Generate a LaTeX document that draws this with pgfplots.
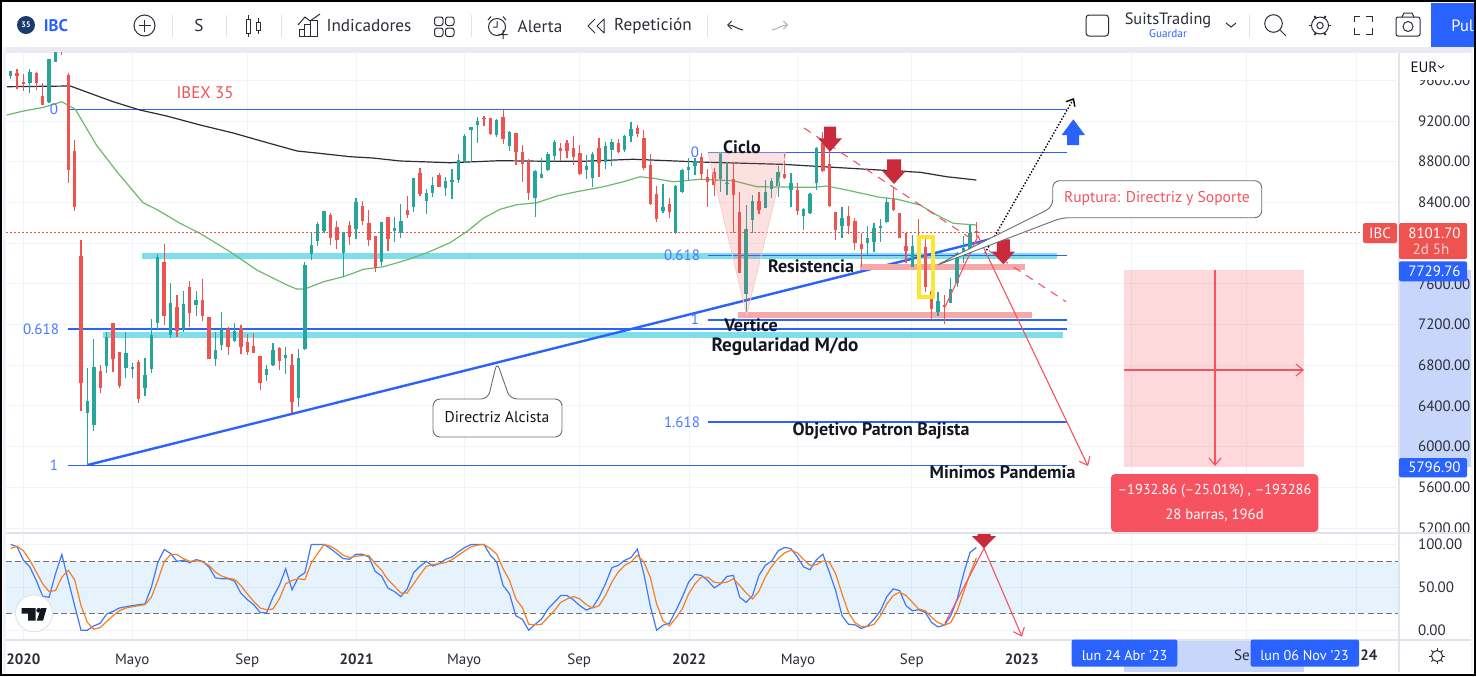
\documentclass[border=0pt]{standalone}
\usepackage{pgfplots}
\pgfplotsset{compat=1.18}
\usepackage{pgfplotstable}
\usepackage{fontspec}
\setmainfont{PT Sans}
\usetikzlibrary{arrows.meta}
\definecolor{tvgreen}{HTML}{26A69A}
\definecolor{tvred}{HTML}{EF5350}
\definecolor{tvblue}{HTML}{2962FF}
\definecolor{tvpink}{HTML}{F7525F}
\definecolor{tvcyan}{HTML}{80DEEA}
\definecolor{salmon}{HTML}{F7A8A8}
\definecolor{gridc}{HTML}{F0F3FA}
\definecolor{sepc}{HTML}{E0E3EB}
\definecolor{txt}{HTML}{131722}
\definecolor{ink}{HTML}{2A2E39}
\definecolor{arrowred}{HTML}{C92A3C}
\definecolor{hilite}{HTML}{C8D6FC}
\definecolor{kline}{HTML}{4277F5}
\definecolor{dline}{HTML}{F57F22}
\definecolor{smag}{HTML}{6CBA6C}
\definecolor{ylw}{HTML}{FBE52E}
\definecolor{navy}{HTML}{1C3A6E}
\definecolor{bandc}{HTML}{2196F3}
\newcommand{\tl}{\fontsize{7.5}{9}\selectfont}
\newcommand{\tbf}{\fontsize{8.6}{10}\selectfont}
\newcommand{\bigf}{\fontsize{9}{10}\selectfont\bfseries}

\pgfplotstableread{
i o h l c
0 9642 9694 9610 9694
3 9576 9708 9472 9684
6 9390 9806 9374 9806
7 9777 10035 9777 9996
12 6327 6772 5819 6448
13 6212 7054 6153 6782
15 6792 7129 6726 7074
18 6769 7123 6671 6917
19 6759 6824 6671 6782
21 6579 6874 6497 6703
22 6762 7251 6726 7100
23 7218 7893 7153 7860
25 7097 7605 7070 7408
27 7153 7532 7129 7398
29 7389 7529 7283 7444
32 6861 7123 6792 6949
33 6998 7320 6949 7146
35 7038 7212 7031 7136
40 6703 6802 6647 6759
41 6805 7021 6792 6949
43 6871 6976 6713 6897
45 6477 6956 6392 6871
46 6956 7817 6949 7785
47 7893 8102 7834 7981
48 8020 8210 7971 8188
49 8119 8318 8096 8318
52 7903 8109 7670 8109
54 8136 8440 8040 8401
58 7811 8210 7775 8210
60 8119 8253 8014 8151
61 8096 8381 8047 8220
63 8352 8643 8308 8643
65 8417 8532 8283 8495
66 8495 8652 8450 8571
68 8544 8652 8463 8610
69 8600 8728 8430 8620
70 8620 8873 8588 8817
71 8800 9069 8790 9055
72 9111 9144 8800 9144
73 9161 9236 8981 9203
76 9062 9217 9046 9210
78 8954 9105 8908 9095
82 8440 8718 8259 8708
83 8643 8833 8637 8676
84 8718 8898 8708 8873
85 8859 9013 8800 8996
90 8718 8866 8630 8758
91 8637 8898 8554 8876
93 8800 8996 8725 8954
94 8915 9023 8758 8996
96 8915 9062 8892 9055
97 9055 9193 8990 9121
102 8318 8581 8293 8358
104 8096 8571 8086 8564
105 8499 8725 8492 8715
106 8718 8833 8620 8745
107 8761 8833 8669 8810
111 8630 8898 8505 8898
112 8578 8800 8473 8588
115 7500 8374 7293 8138
116 8227 8473 8102 8414
118 8348 8620 8342 8505
119 8535 8643 8443 8610
120 8561 8758 8456 8702
122 8522 8686 8352 8588
124 8266 8348 8129 8335
125 8299 8489 8286 8482
126 8588 8941 8522 8932
130 8168 8358 8047 8244
134 7998 8171 7883 8047
135 8014 8200 7915 8151
136 8145 8234 8014 8168
137 8207 8440 8202 8407
141 7768 8079 7768 7971
145 7320 7522 7286 7431
147 7414 7657 7408 7549
148 7605 7915 7571 7906
149 7900 8070 7801 7949
150 7900 8178 7893 8096
}\greenT

\pgfplotstableread{
i o h l c
1 9669 9708 9514 9645
2 9580 9662 9495 9563
4 9669 9684 9504 9570
5 9446 9576 9357 9357
8 9947 9970 9848 9898
9 9652 9669 8588 8718
10 8905 9013 8315 8358
11 7876 8030 6350 6628
14 6743 6802 6524 6573
16 7212 7212 6736 6861
17 6927 6927 6573 6595
20 6828 6851 6425 6465
24 7811 7991 7195 7283
26 7375 7490 7080 7139
28 7568 7627 7178 7310
30 7444 7647 7237 7283
31 7271 7271 6864 6864
34 7156 7172 6897 6982
36 7162 7195 6907 6982
37 7031 7104 6897 6932
38 6986 7113 6920 6920
39 6893 6893 6553 6628
42 6966 6976 6753 6844
44 6802 6907 6333 6441
50 8276 8299 7981 8053
51 8161 8217 7942 8030
53 8178 8217 7981 8063
55 8367 8414 8178 8220
56 8194 8325 7974 8030
57 8073 8073 7719 7752
59 8253 8253 7922 8040
62 8325 8463 8244 8276
64 8686 8735 8463 8480
67 8669 8686 8548 8554
74 9226 9249 9151 9217
75 9226 9226 9062 9072
77 9236 9308 8974 9020
79 9079 9085 8767 8898
80 8895 8964 8603 8774
81 8794 8826 8423 8495
86 8932 8987 8807 8908
87 8981 9013 8833 8905
88 8932 9052 8767 8849
89 8888 8964 8669 8676
92 8932 9030 8652 8790
95 8987 9023 8882 8892
98 9134 9161 9046 9069
99 9030 9111 8718 8741
100 8767 8873 8374 8384
101 8482 8561 8210 8234
103 8381 8440 8244 8303
108 8849 8882 8620 8679
109 8652 8725 8358 8597
110 8702 8735 8463 8571
113 8627 8787 8099 8473
114 8303 8505 7703 7709
117 8414 8505 8286 8325
121 8679 8876 8630 8637
123 8522 8588 8276 8318
127 8981 9095 8698 8708
128 8777 8981 8358 8367
129 8308 8308 8030 8129
131 8266 8367 8089 8168
132 8217 8244 7932 7998
133 7988 8102 7768 7939
138 8430 8554 8320 8325
139 8293 8293 8047 8047
140 7971 8102 7801 7922
142 8079 8234 7866 7964
143 7958 8063 7522 7571
144 7532 7588 7244 7352
146 7391 7490 7202 7375
151 8122 8204 8063 8102
}\redT

\pgfplotstableread{
i k d
0 100 95.2
1 97.2 98
2 81.5 92.5
3 73.7 81.5
4 58 67.8
5 39.6 54.1
6 38.4 45.1
7 65.8 46.2
8 88.2 61.9
9 58 69.8
10 28.6 58.8
11 0 28.6
12 0 9
13 5.1 1.2
14 8.2 3.1
15 18.8 10.2
16 22 16.8
17 25.9 22.7
18 27.4 25.9
19 28.6 27.4
20 29.8 28.6
21 30.6 29.8
22 50.2 38.4
23 78.8 58
24 94.1 79.6
25 89.4 88.2
26 80.3 88.2
27 81.5 83.5
28 78.8 80.3
29 82.3 81.1
30 80.3 79.6
31 73.7 75.6
32 61.1 67.8
33 60 63.1
34 60 60.7
35 57.2 59.2
36 43.1 52.1
37 35.7 42.3
38 29.8 33.7
39 20.8 25.9
40 20 23.9
41 38.4 24.7
42 52.1 36.4
43 71.7 54.1
44 47 58
45 61.9 60
46 67 58.8
47 100 78.4
48 100 89.4
49 100 100
50 95.2 98
51 89.4 93.3
52 83.5 87.4
53 82.7 84.7
54 88.6 86.2
55 88.6 87
56 85.4 87
57 68.6 77.6
58 63.1 69.8
59 49 58.8
60 45.1 51.3
61 39.2 43.5
62 48.2 43.5
63 67 54.1
64 74.5 64.7
65 80.3 74.5
66 74.9 76.4
67 77.6 77.6
68 82.7 78.8
69 85.4 82.3
70 91.3 87.4
71 96.4 92.5
72 100 97.2
73 100 99.2
74 100 100
75 87.4 95.2
76 79.6 88.6
77 52.1 71.7
78 42.3 58
79 16.8 36.4
80 12.9 26.6
81 0 7
82 7 6.3
83 12.9 7
84 24.7 14.9
85 32.5 22.7
86 40.4 32.5
87 40.4 36.4
88 35.3 39.2
89 28.6 36.4
90 23.5 29.8
91 26.6 25.9
92 38.4 28.6
93 54.1 40.4
94 72.9 56
95 75.6 67.8
96 81.5 75.6
97 84.7 79.6
98 94.5 87.4
99 65.8 79.6
100 28.6 61.9
101 0 30.6
102 5.9 11
103 8.2 5.1
104 22.7 14.1
105 38.4 24.7
106 56 42.3
107 65 54.1
108 63.9 61.9
109 58 61.9
110 49.4 56
111 54.1 54.9
112 62.7 56
113 63.9 60
114 38.4 52.1
115 32.5 43.5
116 40.4 36.4
117 63.9 45.5
118 75.6 61.9
119 80.7 74.5
120 92.5 83.5
121 96.4 90.1
122 95.2 93.3
123 85.4 90.1
124 73.7 82.3
125 70.5 75.6
126 82.3 76.4
127 88.6 80.7
128 67.8 79.6
129 46.2 65.8
130 16.8 42.3
131 7 20.8
132 6.3 9
133 2 4.3
134 5.1 4.3
135 12.9 7
136 22.7 16.8
137 39.2 30.6
138 48.2 40.4
139 46.2 44.3
140 28.6 40.4
141 22.7 32.5
142 23.9 24.7
143 20.8 22.7
144 9 14.9
145 3.9 9
146 5.9 5.9
147 16.8 9
148 36.4 22.7
149 65.8 44.3
150 90.5 65.8
151 96.4 84.3
}\stochT

\pgfplotsset{
  candle/.style 2 args={draw=none,no markers,forget plot,
    error bars/.cd,y dir=plus,y explicit,error mark=none,
    error bar style={draw=#1,line width=#2,solid}},
  base/.style={scale only axis,width=696.5pt,xmin=-0.735,xmax=217.09,
    axis line style={draw=none},major tick length=0pt,
    grid=major,grid style={draw=gridc,line width=.5pt},
    xtick={2,19,37,54.1,70.9,88.9,106.1,123.1,140.9,158.1,175.3,193.3,210.4},
    yticklabel pos=right,
    yticklabel style={font=\tl,text=ink,anchor=west,xshift=6pt,
      /pgf/number format/.cd,fixed,fixed zerofill,precision=2,1000 sep={},assume math mode=true},
    clip=true},
  lv/.style={draw=tvblue,line width=.65pt,forget plot,no markers},
}

\begin{document}
\begin{tikzpicture}
\begin{scope}[x=.5pt,y=-.5pt]
\fill[white] (0,0) rectangle (1476,676);
\fill[sepc!70] (3,47) rectangle (1473,53);
\fill[gridc] (3,47) rectangle (6,673);
\fill[gridc] (1471,47) rectangle (1473,673);
\fill[hilite] (1399,270.3) rectangle (1471,466.7);
\fill[hilite] (1124,640) rectangle (1304,672);
\end{scope}

% ---- main price pane
\begin{axis}[base,at={(3pt,-266.5pt)},anchor=south west,height=240.5pt,
  ymin=5151,ymax=9878,
  ytick={5200,5600,6000,6400,6800,7200,7600,8000,8400,8800,9200,9600},
  yticklabels={5200.00,5600.00,6000.00,6400.00,6800.00,7200.00,7600.00,,8400.00,8800.00,9200.00,9600.00},
  xticklabels={}]
% cyan zones
\addplot[draw=tvcyan,line width=3pt,forget plot,no markers] coordinates {(20.53,7873)(163.6,7873)};
\addplot[draw=tvcyan,line width=3pt,forget plot,no markers] coordinates {(14.43,7097)(164.6,7097)};
% fibonacci levels
\addplot[lv] coordinates {(8.9,9315)(165.2,9315)};
\addplot[lv] coordinates {(8.9,7156)(165.2,7156)};
\addplot[lv] coordinates {(8.9,5815)(165.2,5815)};
\addplot[lv] coordinates {(109.04,8888)(165.2,8888)};
\addplot[lv] coordinates {(109.04,7879)(165.2,7879)};
\addplot[lv] coordinates {(109.04,7244)(165.2,7244)};
\addplot[lv] coordinates {(109.04,6242)(165.2,6242)};
% rising trend line
\addplot[draw=tvblue,line width=1.2pt,forget plot,no markers] coordinates {(12,5819)(153.9,8050)};
% salmon zones
\addplot[draw=salmon,line width=3pt,forget plot,no markers] coordinates {(132.8,7765)(158.6,7765)};
\addplot[draw=salmon,line width=3pt,forget plot,no markers] coordinates {(113.7,7293)(159.7,7293)};
% moving averages
\addplot[draw=ink,line width=.6pt,forget plot,no markers] coordinates {
(-0.6,9537)(9.3,9544)(11.3,9498)(16,9390)(20.2,9308)(24.4,9249)(29.6,9161)(34.8,9082)(40.1,8987)(44.8,8905)(47.9,8885)(53.1,8849)(56.7,8836)(60.9,8807)(68.7,8790)(76.5,8810)(84.3,8804)(89.5,8804)(97.3,8824)(107.8,8797)(115.1,8784)(120.8,8774)(135.9,8718)(142.2,8696)(146.4,8652)(151,8620)};
\addplot[draw=smag,line width=.6pt,forget plot,no markers] coordinates {
(-0.6,9259)(2,9298)(5.1,9334)(8,9389)(10.1,9315)(13.4,8964)(16.6,8702)(20.7,8397)(22.8,8332)(26.5,8194)(29.6,8096)(34.3,7915)(38.5,7735)(43.2,7588)(44.7,7549)(46,7549)(48.9,7620)(52,7670)(53.1,7693)(55.1,7742)(58.3,7768)(61.9,7834)(65.1,7905)(68.7,8004)(71.3,8112)(73.9,8244)(76.5,8332)(79.1,8377)(82.3,8397)(85.4,8463)(88.5,8505)(92.7,8554)(95.8,8603)(98.4,8652)(100.5,8637)(103.6,8603)(107.8,8627)(113,8613)(116.7,8554)(125.5,8548)(127.6,8561)(130.7,8522)(135.9,8450)(138.5,8433)(142.2,8374)(144.8,8276)(147.4,8194)(151,8178)};
% candles
\addplot[candle={tvgreen}{.6pt}] table[x=i,y=l,y error plus expr=\thisrow{h}-\thisrow{l}] {\greenT};
\addplot[candle={tvred}{.6pt}] table[x=i,y=l,y error plus expr=\thisrow{h}-\thisrow{l}] {\redT};
\addplot[candle={tvgreen}{1.7pt}] table[x=i,y=o,y error plus expr=\thisrow{c}-\thisrow{o}] {\greenT};
\addplot[candle={tvred}{1.7pt}] table[x=i,y=c,y error plus expr=\thisrow{o}-\thisrow{c}] {\redT};
% last price line
\addplot[draw=tvred,line width=.5pt,dash pattern=on .8pt off 1.2pt,forget plot,no markers] coordinates {(-0.7,8101.7)(211.2,8101.7)};
\end{axis}

% ---- stochastic pane
\begin{axis}[base,at={(3pt,-320pt)},anchor=south west,height=53.5pt,
  ymin=-11.4,ymax=113.3,ytick={0,50,100},
  xticklabels={\textbf{2020},Mayo,Sep,\textbf{2021},Mayo,Sep,\textbf{2022},Mayo,Sep,\textbf{2023},,,},
  xticklabel style={font=\tl,text=ink,yshift=-3.5pt}]
\addplot[fill=bandc,fill opacity=.11,draw=none,forget plot] coordinates {(-0.735,20)(217.09,20)(217.09,80)(-0.735,80)} -- cycle;
\addplot[draw=black!55,line width=.5pt,dash pattern=on 3pt off 1.6pt,forget plot,no markers] coordinates {(-0.735,80)(217.09,80)};
\addplot[draw=black!55,line width=.5pt,dash pattern=on 3pt off 1.6pt,forget plot,no markers] coordinates {(-0.735,20)(217.09,20)};
\addplot[draw=kline,line width=.6pt,forget plot,no markers] table[x=i,y=k] {\stochT};
\addplot[draw=dline,line width=.6pt,forget plot,no markers] table[x=i,y=d] {\stochT};
\end{axis}

\begin{scope}[x=.5pt,y=-.5pt]
% triangle, dashed and thin drawings over the candles
\fill[tvred,opacity=.17] (708,153) -- (786,153) -- (746.7,315) -- cycle;
\draw[salmon!60,line width=.4pt] (708,153) -- (786,153) -- (746.7,315) -- cycle;
\draw[tvpink,line width=.55pt,dash pattern=on 4pt off 3.4pt] (804,128) -- (1066,301.7);
\draw[ylw,line width=2pt] (919,237) rectangle (933,297);
\draw[black,line width=.7pt,dash pattern=on .7pt off .9pt,-{Straight Barb[length=3pt,width=5pt]}] (985,253) -- (1074,98);
\draw[tvpink,line width=.55pt,-{Straight Barb[length=3.6pt,width=6pt]}] (945,307) -- (978,236) -- (1088,466);
\draw[tvpink,line width=.55pt,-{Straight Barb[length=3.6pt,width=6pt]}] (945,623.3) -- (984,548.3) -- (1022,636.7);
% block arrows
\newcommand{\dn}[6]{\fill[arrowred] (#1-#3,#2) -- (#1+#3,#2) -- (#1+#3,#4) -- (#1+#5,#4) -- (#1,#6) -- (#1-#5,#4) -- (#1-#3,#4) -- cycle;}
\dn{830}{126.7}{6}{138.3}{12}{151.7}
\dn{894}{159.3}{7}{170.7}{12}{184}
\dn{1003.3}{239.3}{6.5}{251.7}{11.5}{264.3}
\dn{984}{533}{6.5}{536}{12}{548.3}
\fill[tvblue] (1067,145) -- (1079,145) -- (1079,135) -- (1085,135) -- (1073.3,119.3) -- (1061.7,135) -- (1067,135) -- cycle;
% position tool
\fill[tvpink,opacity=.22] (1124,270.3) rectangle (1304,466.7);
\draw[tvpink,line width=.55pt,-{Straight Barb[length=3.6pt,width=6pt]}] (1215,270.3) -- (1215,466);
\draw[tvpink,line width=.55pt,-{Straight Barb[length=3.6pt,width=6pt]}] (1124,370) -- (1304,370);
\fill[tvpink,rounded corners=2pt] (1111,474) rectangle (1318.3,532);
\node[white,font=\fontsize{7.2}{9}\selectfont] at (1214.5,491) {–1932.86 (–25.01\%) , –193286};
\node[white,font=\fontsize{7.4}{9}\selectfont] at (1214.5,515) {28 barras, 196d};
% callouts
\draw[ink!70,line width=.45pt,fill=white,rounded corners=3.5pt] (1052.7,180.7) -- (1261.7,180.7) -- (1261.7,217.7) -- (1062,217.7) -- (935,266) -- (1052.7,207) -- cycle;
\node[tvpink,font=\fontsize{7.8}{9}\selectfont] at (1157,198.5) {Ruptura: Directriz y Soporte};
\draw[ink!70,line width=.45pt,fill=white,rounded corners=3.5pt] (433,399) -- (488,399) -- (497,362) -- (510,399) -- (562,399) -- (562,437) -- (433,437) -- cycle;
\node[txt,font=\fontsize{7.8}{9}\selectfont] at (497,417.5) {Directriz Alcista};
% text
\node[tvred,font=\fontsize{8.4}{9}\selectfont] at (205,93) {IBEX 35};
\node[txt,font=\bigf] at (742,147) {Ciclo};
\node[txt,font=\bigf] at (811,266) {Resistencia};
\node[txt,font=\bigf] at (751,325) {Vertice};
\node[txt,font=\fontsize{9.6}{10}\selectfont\bfseries] at (785,347) {Regularidad M/do};
\node[txt,font=\bigf] at (881,431) {Objetivo Patron Bajista};
\node[txt,font=\bigf] at (1002.5,472) {Minimos Pandemia};
\foreach \xx/\yy/\ss in {54/109/0,41/329/0.618,54/465/1,695/152/0,682/255/0.618,695/319/1,682/422/1.618}
  \node[tvblue!85!white,font=\tl] at (\xx,\yy) {\ss};
% TV logo
\draw[sepc,line width=.5pt,fill=white] (34,613.3) circle (18.5);
\fill[txt] (21.7,608) -- (35.7,608) -- (35.7,620.7) -- (28,620.7) -- (28,613.5) -- (21.7,613.5) -- cycle;
\fill[txt] (38.7,610.3) circle (2.4);
\fill[txt] (41,608) -- (46.7,608) -- (43,620.7) -- (36.7,620.7) -- cycle;
% pane frames
\draw[sepc,line width=.6pt] (1399,53) -- (1399,672);
\fill[white] (1400,53) rectangle (1471,79.5);
\fill[white] (1400,532) rectangle (1471,535);
\draw[sepc,line width=.6pt] (6,533) -- (1471,533);
\draw[sepc,line width=.6pt] (6,640) -- (1471,640);
\node[txt,font=\tl] at (1424,67) {EUR};
\draw[txt,line width=.4pt] (1438,65.5) -- (1441,68) -- (1444,65.5);
% price scale labels
\fill[tvred,rounded corners=1pt] (1363,223) rectangle (1397,243);
\node[white,font=\tl] at (1380,233) {IBC};
\fill[tvred,rounded corners=1pt] (1399,223) rectangle (1467,259);
\node[white,font=\tl] at (1434.5,233) {8101.70};
\node[white!75!tvred,font=\tl] at (1431,249) {2d 5h};
\fill[tvblue,rounded corners=1pt] (1399,261.3) rectangle (1467,281.3);
\node[white,font=\tl] at (1434.5,271.5) {7729.76};
\fill[tvblue,rounded corners=1pt] (1399,458) rectangle (1467,477.3);
\node[white,font=\tl] at (1434.5,467.5) {5796.90};
% date labels
\fill[tvblue,rounded corners=1pt] (1071.7,639.5) rectangle (1177.3,666.7);
\node[white,font=\fontsize{7.1}{9}\selectfont] at (1124.5,656) {lun 24 Abr '23};
\fill[tvblue,rounded corners=1pt] (1250.7,639.5) rectangle (1359,666.7);
\node[white,font=\fontsize{7.1}{9}\selectfont] at (1304.5,656) {lun 06 Nov '23};
\node[ink,font=\tl,anchor=east,inner sep=0pt] at (1250,655.5) {Se};
\node[ink,font=\tl\bfseries,anchor=west,inner sep=0pt] at (1360,655.5) {24};
% gear at lower right
\draw[ink,line width=.5pt] (1437,656) circle (5.5);
\foreach \a in {0,45,...,315} \draw[ink,line width=.5pt] (1437,656) ++(\a:5.5) -- ++(\a:2.5);
% toolbar
\fill[navy] (26,25) circle (9);
\node[white,font=\fontsize{4}{5}\selectfont\bfseries] at (26,25) {35};
\node[tvblue,font=\fontsize{8.4}{9}\selectfont\bfseries] at (56,25.5) {IBC};
\draw[ink,line width=.5pt] (144.5,25.5) circle (10.5);
\draw[ink,line width=.5pt] (144.5,19.5) -- (144.5,31.5) (138.5,25.5) -- (150.5,25.5);
\foreach \xx in {172,226.5,281,471,707,1249} \draw[sepc,line width=.5pt] (\xx,15) -- (\xx,37);
\node[ink,font=\tbf] at (199,25.5) {S};
\draw[ink,line width=.5pt] (246.5,19) rectangle (250.5,33) (248.5,15) -- (248.5,19) (248.5,33) -- (248.5,37);
\draw[ink,line width=.5pt] (256.5,22) rectangle (260.5,30) (258.5,18) -- (258.5,22) (258.5,30) -- (258.5,34);
\draw[ink,line width=.5pt] (299,36) rectangle (304,29) (304,36) rectangle (310,24) (310,36) rectangle (317,20);
\draw[ink,line width=.5pt] (298,25) -- (305,17) -- (310,21) -- (320,14);
\node[ink,font=\tbf] at (369,26) {Indicadores};
\foreach \xx/\yy in {434.5/17,445.5/17,434.5/28,445.5/28} \draw[ink,line width=.5pt,rounded corners=1.2pt] (\xx,\yy) rectangle ++(8.5,8.5);
\draw[ink,line width=.5pt] (497,27) circle (8.5) (497,21) -- (497,27) -- (493,27) (503,30) -- (503,39) (498.5,34.5) -- (507.5,34.5);
\draw[ink,line width=.5pt] (488,20) -- (491,16.5) (506,20) -- (503,16.5);
\node[ink,font=\tbf] at (540,26) {Alerta};
\draw[ink,line width=.5pt,line join=round] (595,19) -- (588,26) -- (595,33) (604,19) -- (597,26) -- (604,33) -- cycle;
\node[ink,font=\tbf] at (653,26) {Repetición};
\draw[ink,line width=.5pt,-{Straight Barb[length=2pt,width=4pt]}] (743,30) to[out=170,in=0] (727,25);
\draw[black!30,line width=.5pt,-{Straight Barb[length=2pt,width=4pt]}] (772,30) to[out=10,in=180] (788,25);
\draw[ink,line width=.5pt,rounded corners=1.5pt] (1086,15) rectangle (1108.5,36);
\node[ink,font=\fontsize{8.2}{9}\selectfont] at (1168,20) {SuitsTrading};
\node[tvblue,font=\fontsize{5.6}{6}\selectfont] at (1168,34) {Guardar};
\draw[ink,line width=.5pt] (1226,23) -- (1231,27) -- (1236,23);
\draw[ink,line width=.5pt] (1273.5,23.5) circle (8.8) (1280,30) -- (1286,36);
\draw[ink,line width=.5pt] (1320,25.5) circle (3.2) (1320,25.5) circle (8.5);
\foreach \a in {0,60,...,300} \draw[ink,line width=.9pt] (1320,25.5) ++(\a:8.5) -- ++(\a:2.5);
\draw[ink,line width=.5pt] (1354,22) -- (1354,16) -- (1360,16) (1366,16) -- (1372,16) -- (1372,22) (1372,28) -- (1372,34) -- (1366,34) (1360,34) -- (1354,34) -- (1354,28);
\draw[ink,line width=.5pt,rounded corners=1pt] (1396,17) rectangle (1420,36);
\draw[ink,line width=.5pt] (1408,26.5) circle (5) (1402,17) -- (1404,13) -- (1412,13) -- (1414,17);
\fill[tvblue] (1431,3) rectangle (1474,47);
\node[white,font=\fontsize{8.2}{9}\selectfont,anchor=west,inner sep=0pt] at (1451,26) {Pul};
% outer frame
\draw[black,line width=1.2pt] (1.2,1.2) rectangle (1474.8,674.8);
\pgfresetboundingbox
\useasboundingbox (0,0) rectangle (1476,676);
\end{scope}
\end{tikzpicture}
\end{document}
